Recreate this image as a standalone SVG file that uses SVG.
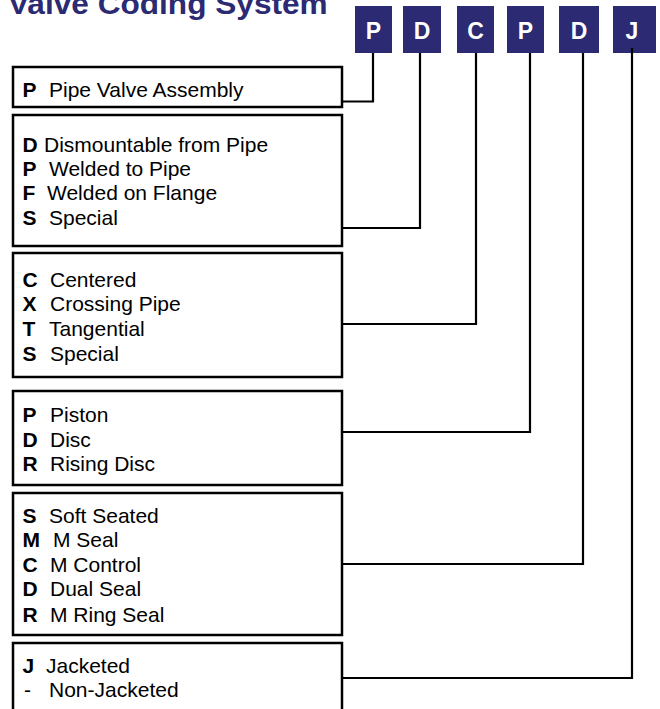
<svg xmlns="http://www.w3.org/2000/svg" width="660" height="709" viewBox="0 0 660 709">
<style>
.box{fill:#fff;stroke:#000;stroke-width:2.5}
.code{fill:#2B2A72}
.cl{fill:#fff;font-family:"Liberation Sans",Arial,sans-serif;font-weight:bold;font-size:23px;text-anchor:middle}
.t{font-family:"Liberation Sans",Arial,sans-serif;font-size:21px;fill:#000}
.b{font-weight:bold}
.con{fill:none;stroke:#000;stroke-width:2.2}
</style>
<rect width="660" height="709" fill="#fff"/>
<text id="title" transform="translate(8,14) scale(1.09,1)" font-family="'Liberation Sans',Arial,sans-serif" font-weight="bold" font-size="29" fill="#2B2A72">Valve Coding System</text>
<g id="codes">
<g id="code1"><rect class="code" x="355" y="6" width="37" height="47"/><text class="cl" x="373.5" y="39">P</text></g>
<g id="code2"><rect class="code" x="403" y="6" width="38" height="47"/><text class="cl" x="422" y="39">D</text></g>
<g id="code3"><rect class="code" x="457" y="6" width="37" height="47"/><text class="cl" x="475.5" y="39">C</text></g>
<g id="code4"><rect class="code" x="507" y="6" width="37" height="47"/><text class="cl" x="525.5" y="39">P</text></g>
<g id="code5"><rect class="code" x="559" y="6" width="40" height="47"/><text class="cl" x="579" y="39">D</text></g>
<g id="code6"><rect class="code" x="613" y="6" width="43" height="47"/><text class="cl" x="632" y="39">J</text></g>
</g>
<g id="connectors">
<polyline class="con" points="373,53 373,101.5 342,101.5"/>
<polyline class="con" points="420,53 420,228 342,228"/>
<polyline class="con" points="476,53 476,324 342,324"/>
<polyline class="con" points="530,53 530,432 342,432"/>
<polyline class="con" points="583,53 583,564 342,564"/>
<polyline class="con" points="632,48 632,678 342,678"/>
</g>
<g id="box1">
<rect class="box" x="13" y="67" width="329" height="40"/>
<text class="t b" x="22.5" y="97">P</text><text class="t" x="49" y="97">Pipe Valve Assembly</text>
</g>
<g id="box2">
<rect class="box" x="13" y="115" width="329" height="131"/>
<text class="t b" x="22.5" y="152">D</text><text class="t" x="44" y="152">Dismountable from Pipe</text>
<text class="t b" x="22.5" y="176">P</text><text class="t" x="49" y="176">Welded to Pipe</text>
<text class="t b" x="22.5" y="200">F</text><text class="t" x="47" y="200">Welded on Flange</text>
<text class="t b" x="22.5" y="225">S</text><text class="t" x="49" y="225">Special</text>
</g>
<g id="box3">
<rect class="box" x="13" y="253" width="329" height="124"/>
<text class="t b" x="22.5" y="287">C</text><text class="t" x="50" y="287">Centered</text>
<text class="t b" x="22.5" y="311">X</text><text class="t" x="50" y="311">Crossing Pipe</text>
<text class="t b" x="22.5" y="336">T</text><text class="t" x="49" y="336">Tangential</text>
<text class="t b" x="22.5" y="361">S</text><text class="t" x="50" y="361">Special</text>
</g>
<g id="box4">
<rect class="box" x="13" y="391" width="329" height="94"/>
<text class="t b" x="22.5" y="422">P</text><text class="t" x="50" y="422">Piston</text>
<text class="t b" x="22.5" y="447">D</text><text class="t" x="50" y="447">Disc</text>
<text class="t b" x="22.5" y="471">R</text><text class="t" x="50" y="471">Rising Disc</text>
</g>
<g id="box5">
<rect class="box" x="13" y="493" width="329" height="142"/>
<text class="t b" x="22.5" y="523">S</text><text class="t" x="49" y="523">Soft Seated</text>
<text class="t b" x="22.5" y="547">M</text><text class="t" x="53" y="547">M Seal</text>
<text class="t b" x="22.5" y="572">C</text><text class="t" x="50" y="572">M Control</text>
<text class="t b" x="22.5" y="596">D</text><text class="t" x="50" y="596">Dual Seal</text>
<text class="t b" x="22.5" y="622">R</text><text class="t" x="50" y="622">M Ring Seal</text>
</g>
<g id="box6">
<rect class="box" x="13" y="643" width="329" height="75"/>
<text class="t b" x="22.5" y="673">J</text><text class="t" x="46" y="673">Jacketed</text>
<text class="t" x="24" y="697">-</text><text class="t" x="49" y="697">Non-Jacketed</text>
</g>
</svg>
